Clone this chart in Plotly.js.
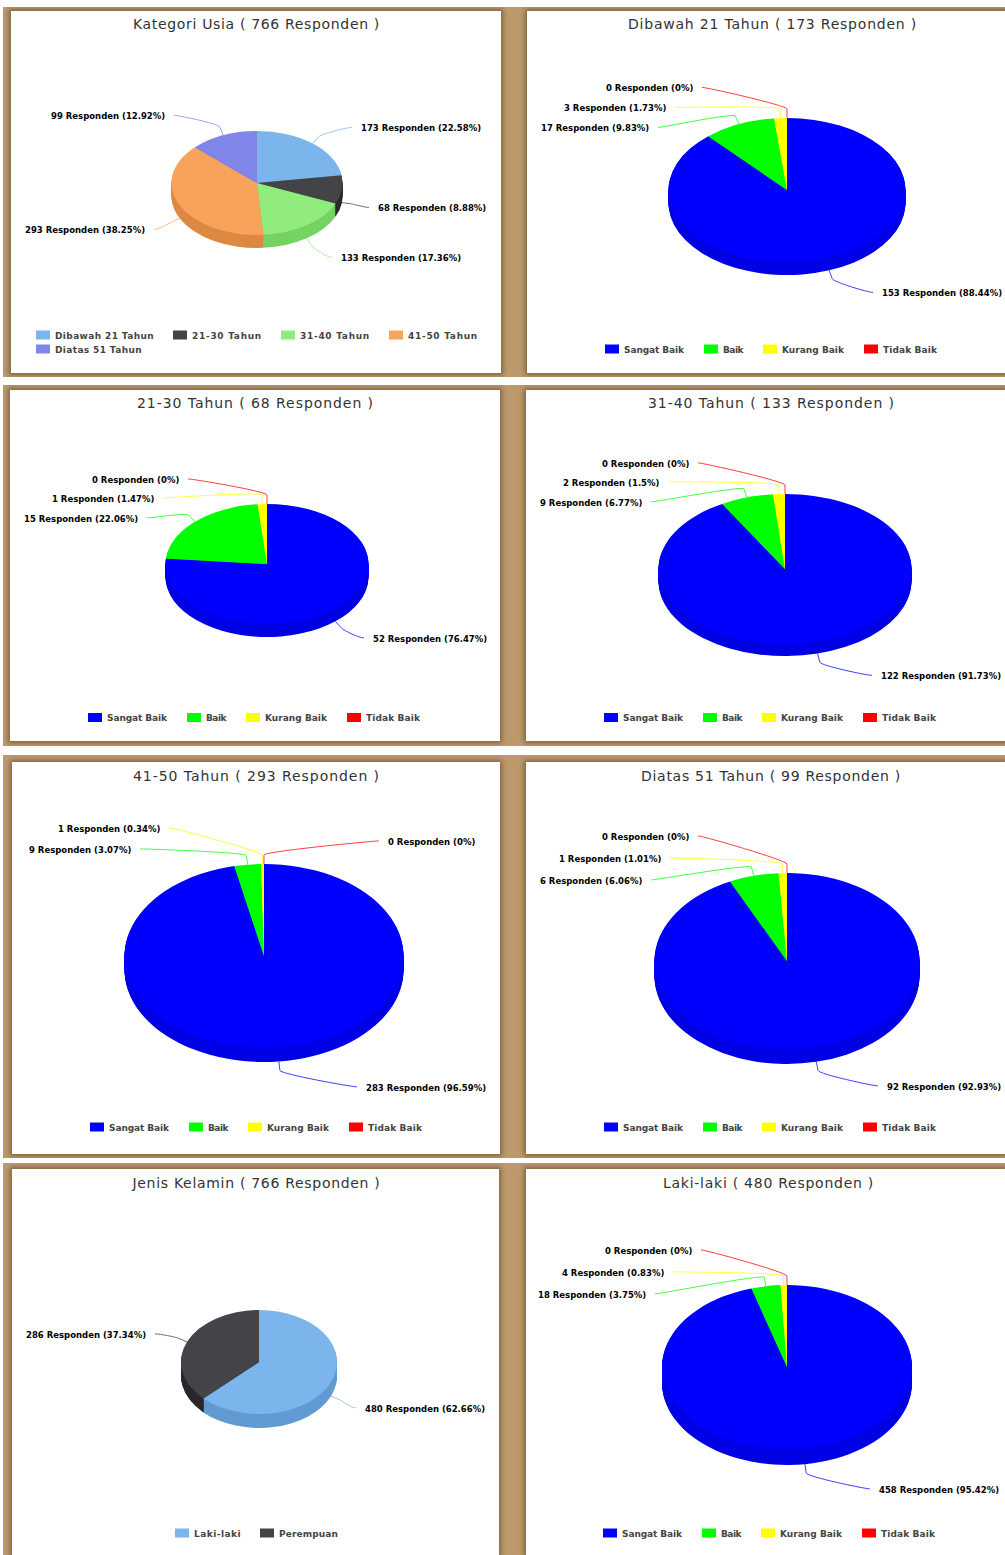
<!DOCTYPE html>
<html><head><meta charset="utf-8">
<script src="https://cdn.plot.ly/plotly-3.0.1.min.js"></script>
<style>
html,body{margin:0;padding:0;background:#fff;width:1005px;height:1555px;overflow:hidden}
.band{position:absolute;left:3px;width:1002px;background:#bd9a6c;overflow:hidden}
.panel{position:absolute;background:#fff;box-shadow:0 0 5px 2px #7f6340}
.chart{position:absolute;left:0;top:0}
</style></head><body>
<script>
// ---------- data ----------
const ageNames = ['Dibawah 21 Tahun','21-30 Tahun','31-40 Tahun','41-50 Tahun','Diatas 51 Tahun'];
const genderNames = ['Laki-laki','Perempuan'];
const ratingNames = ['Sangat Baik','Baik','Kurang Baik','Tidak Baik'];

const usiaValues = [173,68,133,293,99];
const usiaPct = [22.58,8.88,17.36,38.25,12.92];
const bawah21Values = [153,17,3,0];
const bawah21Pct = [88.44,9.83,1.73,0];
const u2130Values = [52,15,1,0];
const u2130Pct = [76.47,22.06,1.47,0];
const u3140Values = [122,9,2,0];
const u3140Pct = [91.73,6.77,1.5,0];
const u4150Values = [283,9,1,0];
const u4150Pct = [96.59,3.07,0.34,0];
const atas51Values = [92,6,1,0];
const atas51Pct = [92.93,6.06,1.01,0];
const kelaminValues = [480,286];
const kelaminPct = [62.66,37.34];
const lakiValues = [458,18,4,0];
const lakiPct = [95.42,3.75,0.83,0];

const titles = ['Kategori Usia ( 766 Responden )','Dibawah 21 Tahun ( 173 Responden )','21-30 Tahun ( 68 Responden )','31-40 Tahun ( 133 Responden )','41-50 Tahun ( 293 Responden )','Diatas 51 Tahun ( 99 Responden )','Jenis Kelamin ( 766 Responden )','Laki-laki ( 480 Responden )'];

// ---------- styles ----------
const ageColors = ['#7cb5ec','#434348','#90ed7d','#f7a35c','#8085e9'];
const genderColors = ['#7cb5ec','#434348'];
const ratingColors = ['#0000ff','#00ff00','#ffff00','#ff0000'];
const FONT = '"DejaVu Sans", sans-serif';
// rendered widths of the legend entries, in pixels
const legendWidths = {'Dibawah 21 Tahun':99,'21-30 Tahun':70,'31-40 Tahun':70,'41-50 Tahun':70,'Diatas 51 Tahun':87,'Sangat Baik':61,'Baik':21,'Kurang Baik':63,'Tidak Baik':55,'Laki-laki':47,'Perempuan':59};

// ---------- layout (page pixels) ----------
const bands = [[7,370],[385,361],[755,403],[1163,392]];
// panel:[x,y,w,h], pie:[cx,cy,rx,ry,depth], title:[cx,cy,width], legend:[x,[rows y],[items per row]]
// labels: [x, y, side] side 1 = text to the right of the leader, -1 = to the left
const charts = [
 {names:ageNames,colors:ageColors,values:usiaValues,pct:usiaPct,panel:[11,11,490,362],pie:[257,183,85.5,52,13],title:[256.5,24,247],legend:[36,[335,349],[4,1]],
  labels:[[361,128.4,1],[378,208.4,1],[341,258.4,1],[145,230.4,-1],[165,116.4,-1]]},
 {names:ratingNames,colors:ratingColors,values:bawah21Values,pct:bawah21Pct,panel:[527,11,478,362],pie:[787,190,118.5,72,13],title:[772.5,24,289],legend:[605,[349],[4]],
  labels:[[882,293.4,1],[649,128.4,-1],[666,108.4,-1],[693,88.4,-1]]},
 {names:ratingNames,colors:ratingColors,values:u2130Values,pct:u2130Pct,panel:[10,390,490,351],pie:[267,564,101.5,60,13],title:[255.5,403,237],legend:[88,[717.5],[4]],
  labels:[[373,638.9,1],[138,518.9,-1],[154,498.9,-1],[179,479.9,-1]]},
 {names:ratingNames,colors:ratingColors,values:u3140Values,pct:u3140Pct,panel:[526,390,479,351],pie:[785,569,126.5,75,12],title:[771.5,403,247],legend:[604,[717.5],[4]],
  labels:[[881,676.4,1],[642,502.9,-1],[660,482.9,-1],[689,463.9,-1]]},
 {names:ratingNames,colors:ratingColors,values:u4150Values,pct:u4150Pct,panel:[12,762,488,392],pie:[264,956,139.5,92,14],title:[256.5,776,247],legend:[90,[1127],[4]],
  labels:[[366,1087.9,1],[131,849.9,-1],[160,828.9,-1],[388,841.9,1]]},
 {names:ratingNames,colors:ratingColors,values:atas51Values,pct:atas51Pct,panel:[526,762,479,392],pie:[787,961,132.5,88,15],title:[771,776,260],legend:[604,[1127],[4]],
  labels:[[887,1086.9,1],[642,880.9,-1],[661,858.9,-1],[689,836.9,-1]]},
 {names:genderNames,colors:genderColors,values:kelaminValues,pct:kelaminPct,panel:[12,1169,487,386],pie:[259,1362,78,52,14],title:[256.5,1183,249],legend:[175,[1533],[2]],
  labels:[[365,1408.9,1],[146,1334.9,-1]]},
 {names:ratingNames,colors:ratingColors,values:lakiValues,pct:lakiPct,panel:[526,1169,479,386],pie:[787,1367,125,82,16],title:[768.5,1183,211],legend:[603,[1533],[4]],
  labels:[[879,1489.9,1],[646,1294.9,-1],[664,1272.9,-1],[692,1250.9,-1]]}
];

// ---------- page frame ----------
bands.forEach(b=>{const d=document.createElement('div');d.className='band';d.style.top=b[0]+'px';d.style.height=b[1]+'px';d.dataset.top=b[0];document.body.appendChild(d);});
const bandEls=[...document.querySelectorAll('.band')];

function leader(c,i){
  // rim point of the slice's middle angle, from the data
  const [cx,cy,rx,ry,depth]=c.pie, total=c.values.reduce((a,b)=>a+b,0);
  let before=0; for(let k=0;k<i;k++) before+=c.values[k];
  const a=(before+c.values[i]/2)/total*2*Math.PI, s=Math.sin(a), co=Math.cos(a);
  const rimX=cx+rx*s, rimY=cy-ry*co+(co<0?depth:0);
  const brX=rimX+9*s, brY=rimY-9*co;
  const [lx,ly,side]=c.labels[i];
  const ex=lx-side*9, ey=ly-1, px=c.panel[0], py=c.panel[1], W=c.panel[2], H=c.panel[3];
  const X=v=>((v-px)/W).toFixed(5), Y=v=>(1-(v-py)/H).toFixed(5);
  return {type:'path',xref:'paper',yref:'paper',layer:'below',opacity:0.75,
    path:`M${X(ex)},${Y(ey)} C${X(ex-side*5)},${Y(ey)} ${X(brX+0.4*(brX-rimX))},${Y(brY+0.4*(brY-rimY))} ${X(brX)},${Y(brY)} L${X(rimX)},${Y(rimY)}`,
    line:{color:c.colors[i],width:1}};
}

function dark(rgb){
  const m=rgb.match(/\d+/g).map(Number);
  return `rgb(${Math.max(0,m[0]-26)},${Math.max(0,m[1]-26)},${Math.max(0,m[2]-26)})`;
}

function fitWidth(el,target){
  const w=el.getBBox().width, n=el.textContent.length;
  el.style.letterSpacing=((target-w)/n).toFixed(3)+'px';
}

function finish(gd,c){
  const [cx,cy,rx,ry,depth]=c.pie, ly0=cy-c.panel[1], k=ry/rx;
  const tr=gd.querySelector('.pielayer .trace');
  const tf=o=>`translate(0,${ly0+o}) scale(1,${k}) translate(0,${-ly0})`;
  for(let o=depth;o>=1;o--){
    const cl=tr.cloneNode(true);
    cl.setAttribute('transform',tf(o));
    cl.querySelectorAll('path.surface').forEach(p=>p.style.fill=dark(p.style.fill));
    tr.parentNode.insertBefore(cl,tr);
  }
  tr.setAttribute('transform',tf(0));
  fitWidth(gd.querySelector('.gtitle'),c.title[2]);
  // legend: wide swatches, compact flow
  const leg=gd.querySelector('g.legend');
  const t=(leg.getAttribute('transform')||'').match(/translate\(([-\d.]+)[ ,]*([-\d.]*)/);
  const lx=+t[1], ly=+t[2]||0;
  const sb=leg.querySelector('.scrollbox'); sb.removeAttribute('clip-path');
  leg.querySelectorAll('.legendtoggle').forEach(n=>n.remove());
  const items=[...leg.querySelectorAll('g.traces')];
  let idx=0;
  c.legend[2].forEach((n,row)=>{
    let x=c.legend[0];
    for(let j=0;j<n;j++,idx++){
      const it=items[idx], txt=it.querySelector('.legendtext'), w=legendWidths[c.names[idx]];
      fitWidth(txt,w);
      it.querySelector('path.legendpie').setAttribute('d','M15,4.5H1V-4.5H15Z');
      it.setAttribute('transform',`translate(${x-21-c.panel[0]-lx},${c.legend[1][row]-c.panel[1]-ly})`);
      x+=19+w+19;
    }
  });
}

charts.forEach((c,ci)=>{
  const [px,py,W,H]=c.panel;
  const band=bandEls[bands.findIndex(b=>py>=b[0]&&py<b[0]+b[1])];
  const bt=+band.dataset.top;
  const panel=document.createElement('div');panel.className='panel';
  panel.style.cssText=`left:${px-3}px;top:${py-bt}px;width:${W}px;height:${H}px`;
  const div=document.createElement('div');div.className='chart';panel.appendChild(div);band.appendChild(panel);
  const [cx,cy,rx]=c.pie;
  const trace={type:'pie',values:c.values,labels:c.names,sort:false,direction:'clockwise',rotation:0,
    marker:{colors:c.colors,line:{width:0}},textinfo:'none',hoverinfo:'skip',
    domain:{x:[(cx-rx-px)/W,(cx+rx-px)/W],y:[1-(cy+rx-py)/H,1-(cy-rx-py)/H]}};
  const anns=c.labels.map((l,i)=>({xref:'paper',yref:'paper',x:(l[0]-px)/W,y:1-(l[1]-py)/H,xanchor:l[2]>0?'left':'right',yanchor:'middle',
    showarrow:false,text:`<b>${c.values[i]} Responden (${c.pct[i]}%)</b>`,font:{family:FONT,size:8.5,color:'#000'},borderpad:0,borderwidth:0}));
  const layout={width:W,height:H,margin:{l:0,r:0,t:0,b:0,autoexpand:false},paper_bgcolor:'#fff',
    title:{text:titles[ci],x:(c.title[0]-px)/W,xref:'paper',xanchor:'center',y:1-(c.title[1]-py)/H,yref:'paper',yanchor:'middle',font:{family:FONT,size:14,color:'#333'}},
    showlegend:true,legend:{orientation:'h',x:0,xanchor:'left',y:0.2,yanchor:'top',font:{family:FONT,size:9,color:'#444',weight:'bold'},bgcolor:'rgba(0,0,0,0)',itemclick:false,itemdoubleclick:false},
    annotations:anns,shapes:c.values.map((v,i)=>leader(c,i))};
  Plotly.newPlot(div,[trace],layout,{staticPlot:true,displayModeBar:false}).then(gd=>finish(gd,c));
});
</script>
</body></html>
